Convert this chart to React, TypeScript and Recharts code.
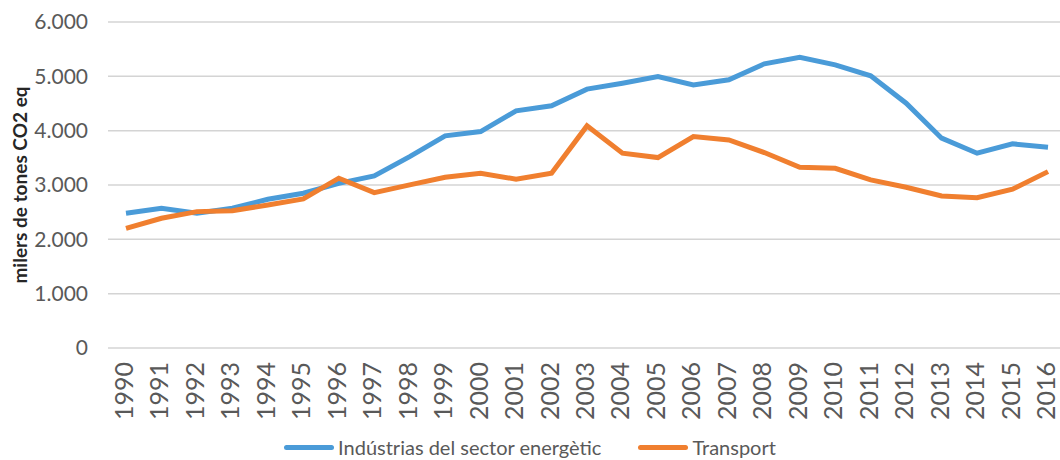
import React from 'react';
import { LineChart, Line, XAxis, YAxis, CartesianGrid } from 'recharts';

const YEARS = [
  1990, 1991, 1992, 1993, 1994, 1995, 1996, 1997, 1998, 1999, 2000, 2001, 2002, 2003,
  2004, 2005, 2006, 2007, 2008, 2009, 2010, 2011, 2012, 2013, 2014, 2015, 2016,
];

const ENERGY = [
  2480, 2572, 2480, 2572, 2738, 2848, 3030, 3167, 3523, 3904, 3983, 4365, 4457, 4764,
  4874, 4997, 4843, 4936, 5230, 5352, 5212, 5009, 4506, 3862, 3585, 3757, 3696,
];

const TRANSPORT = [
  2200, 2388, 2510, 2528, 2633, 2744, 3125, 2860, 3002, 3143, 3217, 3107, 3217, 4088,
  3585, 3505, 3892, 3830, 3597, 3327, 3308, 3094, 2959, 2799, 2767, 2922, 3246,
];

const Y_TICKS = [0, 1000, 2000, 3000, 4000, 5000, 6000];

const SERIES = [
  { key: 'energy', name: 'Indústrias del sector energètic', color: '#4A9BD8' },
  { key: 'transport', name: 'Transport', color: '#F07F2F' },
];

const data = YEARS.map((year, i) => ({ year, energy: ENERGY[i], transport: TRANSPORT[i] }));

const FONT = 'Lato, "Open Sans", sans-serif';
const TEXT = '#595959';

const fmt = (v: number) => (v === 0 ? '0' : v.toLocaleString('de-DE'));

const YearTick = (props: any) => {
  const { x, y, payload } = props;
  return (
    <g transform={`translate(${x},${y})`}>
      <text transform="rotate(-90)" textAnchor="end" dy="0.28em" fill={TEXT} fontSize={25} fontFamily={FONT}>
        {payload.value}
      </text>
    </g>
  );
};

// legend drawn as html under the plot so it doesn't eat into the chart offset
const ChartLegend = () => (
  <div
    style={{
      position: 'absolute', top: 435, left: 0, width: 1060,
      display: 'flex', justifyContent: 'center', alignItems: 'center',
      fontFamily: FONT, fontSize: 20, color: TEXT, lineHeight: '24px',
    }}
  >
    {SERIES.map((s, i) => (
      <div key={s.key} style={{ display: 'flex', alignItems: 'center', marginLeft: i ? 37 : 0 }}>
        <span style={{ display: 'inline-block', width: 50, height: 5, borderRadius: 3, background: s.color, marginRight: 4 }} />
        <span>{s.name}</span>
      </div>
    ))}
  </div>
);

export default function App() {
  return (
    <div style={{ position: 'fixed', top: 0, left: 0, width: 1060, height: 460, background: '#fff', overflow: 'hidden' }}>
      <LineChart width={1060} height={460} data={data} margin={{ top: 22, right: 0, left: 0, bottom: 0 }}>
        <CartesianGrid vertical={false} stroke="#D4D4D4" strokeWidth={1.5} />
        <XAxis
          dataKey="year"
          type="number"
          domain={[1990, 2016]}
          ticks={YEARS}
          interval={0}
          height={112}
          padding={{ left: 18, right: 12 }}
          axisLine={false}
          tickLine={false}
          tickMargin={8}
          tick={<YearTick />}
        />
        <YAxis
          width={108}
          domain={[0, 6000]}
          ticks={Y_TICKS}
          axisLine={false}
          tickLine={false}
          tickMargin={14}
          tickFormatter={fmt}
          tick={{ fill: TEXT, fontSize: 21, fontFamily: FONT }}
          label={{
            value: 'milers de tones CO2 eq',
            angle: -90,
            position: 'insideLeft',
            offset: 20,
            style: { textAnchor: 'middle', fill: '#262626', fontSize: 19, fontWeight: 700, fontFamily: FONT },
          }}
        />
        {SERIES.map((s) => (
          <Line
            key={s.key}
            dataKey={s.key}
            name={s.name}
            stroke={s.color}
            strokeWidth={5}
            dot={false}
            type="linear"
            isAnimationActive={false}
          />
        ))}
      </LineChart>
      <ChartLegend />
    </div>
  );
}
